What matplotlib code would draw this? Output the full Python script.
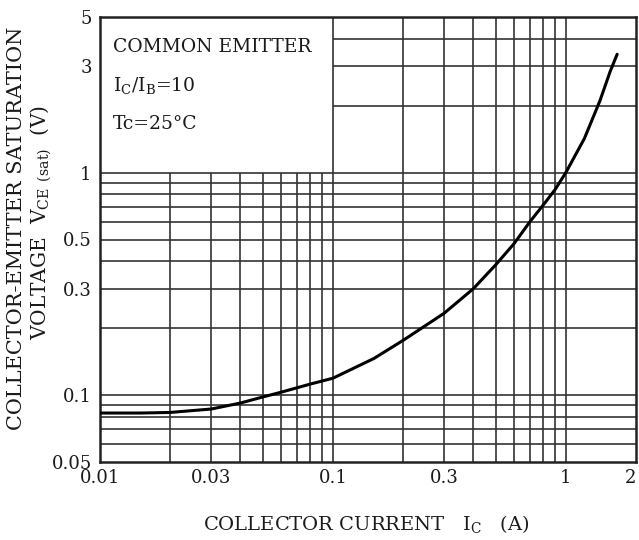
import matplotlib
matplotlib.use("Agg")
import matplotlib.pyplot as plt

plt.rcParams['font.family'] = ['DejaVu Serif']
plt.rcParams['mathtext.fontset'] = 'dejavuserif'

# Data
ic = [0.01, 0.015, 0.02, 0.03, 0.04, 0.05, 0.06, 0.08, 0.1, 0.15, 0.2, 0.3,
      0.4, 0.5, 0.6, 0.7, 0.8, 0.9, 1.0, 1.2, 1.4, 1.55, 1.66]
vce = [0.083, 0.083, 0.0835, 0.0865, 0.092, 0.098, 0.103, 0.112, 0.119, 0.146,
       0.176, 0.233, 0.30, 0.385, 0.48, 0.60, 0.715, 0.84, 1.0, 1.42, 2.1, 2.85, 3.4]

xticks = [0.01, 0.03, 0.1, 0.3, 1, 2]
xtick_labels = ["0.01", "0.03", "0.1", "0.3", "1", "2"]
yticks = [0.05, 0.1, 0.3, 0.5, 1, 3, 5]
ytick_labels = ["0.05", "0.1", "0.3", "0.5", "1", "3", "5"]

# grid positions
vgrid_low = [0.02, 0.03, 0.04, 0.05, 0.06, 0.07, 0.08, 0.09]   # only up to 1 V
vgrid_full = [0.1, 0.2, 0.3, 0.4, 0.5, 0.6, 0.7, 0.8, 0.9, 1.0]
hgrid_full = [0.06, 0.07, 0.08, 0.09, 0.1, 0.2, 0.3, 0.4, 0.5, 0.6, 0.7, 0.8, 0.9, 1.0]
hgrid_right = [2, 3, 4]   # only right of 0.1 A

xmin, xmax = 0.01, 2
ymin, ymax = 0.05, 5

fig = plt.figure(figsize=(6.39, 5.40), dpi=100)
ax = fig.add_axes([100/639, 1-462/540, 536/639, 445/540])
ax.set_xscale('log')
ax.set_yscale('log')
ax.set_xlim(xmin, xmax)
ax.set_ylim(ymin, ymax)

gc = '#333333'
glw = 1.2
ax.vlines(vgrid_low, ymin, 1.0, color=gc, lw=glw, zorder=1)
ax.vlines(vgrid_full, ymin, ymax, color=gc, lw=glw, zorder=1)
ax.hlines(hgrid_full, xmin, xmax, color=gc, lw=glw, zorder=1)
ax.hlines(hgrid_right, 0.1, xmax, color=gc, lw=glw, zorder=1)

ax.plot(ic, vce, color='black', lw=2.2, zorder=3, solid_capstyle='round',
        solid_joinstyle='round')

for s in ax.spines.values():
    s.set_linewidth(1.8)
    s.set_color('#222222')

ax.set_xticks(xticks)
ax.set_xticklabels(xtick_labels)
ax.set_yticks(yticks)
ax.set_yticklabels(ytick_labels)
ax.minorticks_off()
ax.tick_params(axis='both', length=0, labelsize=13, colors='#1a1a1a')
ax.tick_params(axis='x', pad=5)
ax.tick_params(axis='y', pad=6)
xl = ax.get_xticklabels()
xl[-1].set_horizontalalignment('right')
xl[-1].set_x(2)

# box text
tc = '#1a1a1a'
fs = 13.5
ax.text(0.0114, 3.65, "COMMON EMITTER", fontsize=fs, color=tc, va='center', ha='left')
ax.text(0.0114, 2.45, r"I$_\mathregular{C}$/I$_\mathregular{B}$=10", fontsize=fs, color=tc,
        va='center', ha='left')
ax.text(0.0114, 1.65, "Tc=25°C", fontsize=fs, color=tc, va='center', ha='left')

# axis labels
fig.text(366/639, 1-524/540, r"COLLECTOR CURRENT   I$_\mathregular{C}$   (A)", fontsize=14,
         color=tc, ha='center', va='center')
fig.text(17/639, 1-228/540, "COLLECTOR-EMITTER SATURATION", fontsize=15, color=tc,
         rotation=90, ha='center', va='center')
fig.text(41/639, 1-222/540, r"VOLTAGE  V$_\mathregular{CE}$ $_\mathregular{(sat)}$  (V)",
         fontsize=14.5, color=tc, rotation=90, ha='center', va='center')

fig.savefig("out.png", dpi=100)
